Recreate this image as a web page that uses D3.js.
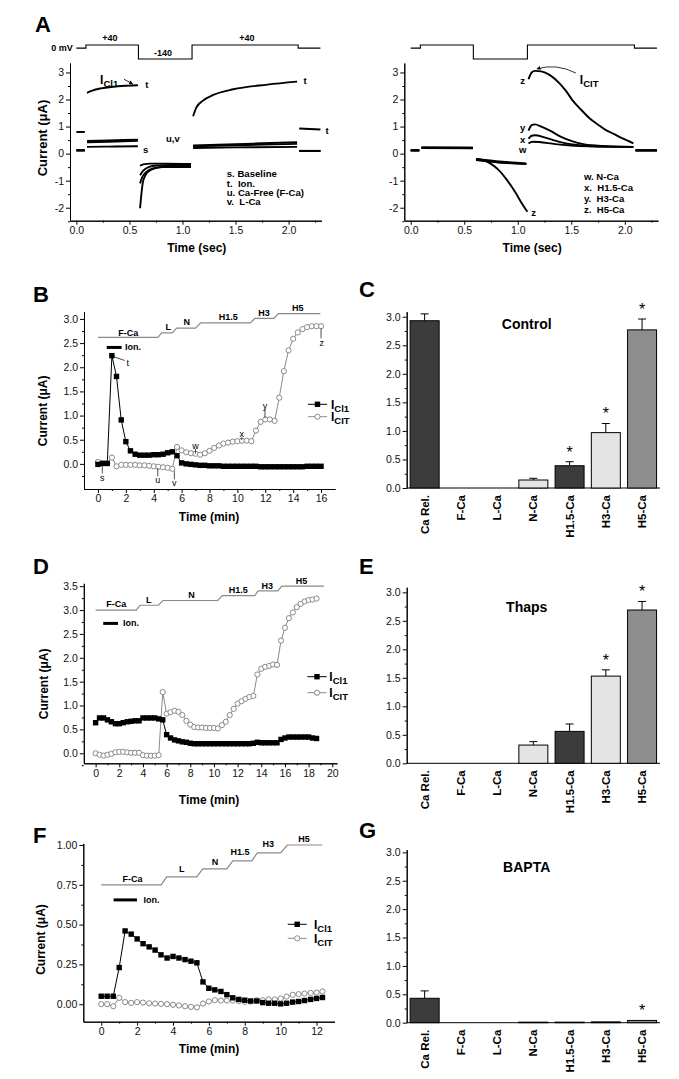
<!DOCTYPE html>
<html><head><meta charset="utf-8">
<script src="https://cdn.jsdelivr.net/npm/d3@7"></script>
<style>
body{margin:0;background:#fff}
svg{display:block;background:#fff}
text{font-family:"Liberation Sans",Arial,Helvetica,sans-serif}
</style>
</head><body>
<svg id="chart" width="679" height="1079"></svg>
<script>
// ================= DATA =================
// Panel A: voltage protocol
const protoTime = [0, 0.09, 0.09, 0.585, 0.585, 1.09, 1.09, 2.09, 2.09, 2.3];
const protoMv   = [0, 0, 40, 40, -140, -140, 40, 40, 0, 0];

// Panel A left: current traces (segments of [time s, current µA])
const traceAL_s = [
  [[0,0.12],[0.08,0.12]],
  [[0.1,0.25],[0.3,0.26],[0.58,0.27]],
  [[0.6,-0.45],[0.63,-0.4],[0.7,-0.37],[0.85,-0.37],[1.08,-0.38]],
  [[1.1,0.21],[1.5,0.23],[2.08,0.25]],
  [[2.1,0.1],[2.3,0.1]]
];
const traceAL_t = [
  [[0,0.8],[0.08,0.8]],
  [[0.1,2.25],[0.15,2.33],[0.23,2.41],[0.39,2.49],[0.58,2.53]],
  [[0.6,-2.02],[0.61,-1.6],[0.625,-1.1],[0.65,-0.8],[0.7,-0.6],[0.8,-0.5],[0.95,-0.47],[1.08,-0.46]],
  [[1.1,1.38],[1.13,1.7],[1.19,1.95],[1.29,2.17],[1.48,2.38],[1.8,2.55],[2.08,2.66]],
  [[2.1,0.93],[2.3,0.89]]
];
const traceAL_u = [
  [[0,0.12],[0.08,0.12]],
  [[0.1,0.42],[0.3,0.44],[0.58,0.47]],
  [[0.6,-1.1],[0.62,-0.88],[0.66,-0.68],[0.72,-0.55],[0.82,-0.5],[1.08,-0.5]],
  [[1.1,0.3],[1.5,0.35],[2.08,0.42]],
  [[2.1,0.1],[2.3,0.1]]
];
const traceAL_v = [
  [[0,0.12],[0.08,0.12]],
  [[0.1,0.47],[0.3,0.49],[0.58,0.51]],
  [[0.6,-0.8],[0.63,-0.63],[0.68,-0.5],[0.76,-0.44],[0.9,-0.42],[1.08,-0.42]],
  [[1.1,0.27],[1.5,0.31],[2.08,0.36]],
  [[2.1,0.1],[2.3,0.1]]
];
// Panel A right
const traceAR_w = [
  [[0,0.12],[0.08,0.12]],
  [[0.1,0.23],[0.58,0.22]],
  [[0.61,-0.2],[0.8,-0.28],[1.08,-0.36]],
  [[1.1,0.38],[1.14,0.44],[1.2,0.43],[1.35,0.35],[1.5,0.3],[1.7,0.27],[2.08,0.25]],
  [[2.1,0.12],[2.3,0.12]]
];
const traceAR_x = [
  [[0,0.12],[0.08,0.12]],
  [[0.1,0.22],[0.58,0.21]],
  [[0.61,-0.22],[0.8,-0.31],[1.08,-0.38]],
  [[1.1,0.55],[1.13,0.66],[1.16,0.68],[1.25,0.6],[1.35,0.48],[1.45,0.38],[1.6,0.3],[1.8,0.26],[2.08,0.25]],
  [[2.1,0.12],[2.3,0.12]]
];
const traceAR_y = [
  [[0,0.12],[0.08,0.12]],
  [[0.1,0.21],[0.58,0.2]],
  [[0.61,-0.24],[0.8,-0.32],[1.08,-0.39]],
  [[1.1,0.85],[1.13,1.05],[1.16,1.08],[1.22,1.0],[1.3,0.85],[1.4,0.63],[1.5,0.47],[1.6,0.36],[1.75,0.29],[1.9,0.26],[2.08,0.25]],
  [[2.1,0.12],[2.3,0.12]]
];
const traceAR_z = [
  [[0,0.12],[0.08,0.12]],
  [[0.1,0.22],[0.58,0.22]],
  [[0.61,-0.2],[0.68,-0.25],[0.75,-0.38],[0.82,-0.6],[0.9,-0.98],[0.98,-1.45],[1.04,-1.85],[1.09,-2.15]],
  [[1.1,2.75],[1.13,3.0],[1.16,3.06],[1.22,3.04],[1.3,2.9],[1.39,2.6],[1.45,2.32],[1.51,1.98],[1.59,1.63],[1.67,1.31],[1.75,1.07],[1.82,0.88],[1.9,0.72],[1.98,0.56],[2.08,0.38]],
  [[2.1,0.12],[2.3,0.12]]
];
const legendAL = ["s. Baseline", "t.  Ion.", "u. Ca-Free (F-Ca)", "v.  L-Ca"];
const legendAR = ["w. N-Ca", "x.  H1.5-Ca", "y.  H3-Ca", "z.  H5-Ca"];

// Panel B
const timeB = [0,0.33,0.67,1,1.33,1.67,2,2.33,2.67,3,3.33,3.67,4,4.33,4.67,5,5.33,5.67,6,6.33,6.67,7,7.33,7.67,8,8.33,8.67,9,9.33,9.67,10,10.33,10.67,11,11.33,11.67,12,12.33,12.67,13,13.33,13.67,14,14.33,14.67,15,15.33,15.67,16];
const icl1B = [-0.01,0.01,0.01,2.24,1.81,0.91,0.46,0.27,0.20,0.18,0.18,0.18,0.19,0.19,0.20,0.23,0.25,0.17,0.02,0.0,-0.01,-0.02,-0.03,-0.03,-0.04,-0.04,-0.04,-0.05,-0.05,-0.05,-0.05,-0.05,-0.05,-0.05,-0.05,-0.06,-0.06,-0.06,-0.06,-0.06,-0.06,-0.06,-0.06,-0.06,-0.06,-0.05,-0.05,-0.05,-0.05];
const ictB  = [0.04,0.01,0.01,0.13,-0.05,-0.02,-0.02,-0.02,-0.02,-0.03,-0.03,-0.04,-0.05,-0.06,-0.07,-0.08,-0.10,0.35,0.28,0.24,0.22,0.21,0.19,0.22,0.27,0.33,0.38,0.42,0.44,0.46,0.47,0.48,0.48,0.47,0.69,0.87,0.92,0.92,0.89,1.37,1.92,2.35,2.59,2.72,2.79,2.83,2.85,2.85,2.85];
const stepsB = [[0,2.62],[4.3,2.62],[4.57,2.71],[5.33,2.71],[5.64,2.81],[7.0,2.81],[7.36,2.92],[10.93,2.92],[11.24,3.01],[12.62,3.01],[12.95,3.11],[15.95,3.11]];
const stepLabelsB = [["F-Ca",2.18,2.70],["L",5.05,2.83],["N",6.37,2.93],["H1.5",9.35,3.03],["H3",11.91,3.13],["H5",14.33,3.22]];
const ionB = [0.63, 1.70, 2.41, 1.94];
const annotB = [
  ["s",0.31,-0.29,0.31,-0.03,0.31,-0.2],
  ["t",2.13,2.08,1.12,2.22,1.92,2.14],
  ["u",4.29,-0.34,4.29,-0.09,4.29,-0.26],
  ["v",5.48,-0.40,5.48,-0.15,5.48,-0.32],
  ["w",6.99,0.37,6.99,0.31,6.99,0.21],
  ["x",10.31,0.61,10.31,0.55,10.31,0.49],
  ["y",11.98,1.20,11.98,1.13,11.98,0.95],
  ["z",16.05,2.50,16.0,2.8,16.0,2.6]
];

// Panel D
const timeD = [0,0.33,0.67,1,1.33,1.67,2,2.33,2.67,3,3.33,3.67,4,4.33,4.67,5,5.33,5.67,6,6.33,6.67,7,7.33,7.67,8,8.33,8.67,9,9.33,9.67,10,10.33,10.67,11,11.33,11.67,12,12.33,12.67,13,13.33,13.67,14,14.33,14.67,15,15.33,15.67,16,16.33,16.67,17,17.33,17.67,18,18.33,18.67];
const icl1D = [0.64,0.74,0.74,0.70,0.66,0.62,0.62,0.64,0.66,0.67,0.68,0.68,0.74,0.74,0.74,0.74,0.72,0.70,0.39,0.32,0.28,0.26,0.24,0.23,0.21,0.20,0.20,0.20,0.20,0.20,0.20,0.20,0.20,0.20,0.20,0.20,0.20,0.20,0.20,0.20,0.21,0.23,0.22,0.22,0.22,0.22,0.22,0.29,0.32,0.34,0.34,0.34,0.34,0.34,0.34,0.32,0.31];
const ictD  = [0.0,-0.03,-0.05,-0.03,-0.01,0.02,0.03,0.03,0.02,0.01,0.01,0.01,-0.04,-0.05,-0.05,-0.05,-0.04,1.28,0.83,0.86,0.89,0.87,0.80,0.68,0.60,0.55,0.54,0.54,0.53,0.53,0.53,0.52,0.59,0.66,0.80,0.93,1.04,1.09,1.14,1.18,1.20,1.65,1.77,1.81,1.83,1.86,1.85,2.36,2.63,2.83,2.95,3.06,3.13,3.18,3.21,3.22,3.24];
const stepsD = [[0,3.0],[3.43,3.0],[3.76,3.1],[5.3,3.1],[5.7,3.2],[10.33,3.2],[10.7,3.3],[13.45,3.3],[13.73,3.4],[15.4,3.4],[15.74,3.5],[19.3,3.5]];
const stepLabelsD = [["F-Ca",1.75,3.12],["L",4.48,3.21],["N",8.1,3.32],["H1.5",12.06,3.42],["H3",14.5,3.50],["H5",17.4,3.61]];
const ionD = [0.64, 1.89, 2.72, 2.31];

// Panel F
const timeF = [0,0.33,0.67,1,1.33,1.67,2,2.33,2.67,3,3.33,3.67,4,4.33,4.67,5,5.33,5.67,6,6.33,6.67,7,7.33,7.67,8,8.33,8.67,9,9.33,9.67,10,10.33,10.67,11,11.33,11.67,12,12.33];
const icl1F = [0.05,0.05,0.05,0.23,0.46,0.44,0.41,0.38,0.36,0.34,0.31,0.29,0.30,0.29,0.28,0.27,0.26,0.14,0.10,0.09,0.08,0.06,0.04,0.03,0.025,0.02,0.02,0.01,0.006,0.006,0.002,0.006,0.013,0.017,0.023,0.03,0.036,0.042];
const ictF  = [0.0,0.0,-0.013,0.04,0.013,0.008,0.013,0.01,0.006,0.004,0.002,0.0,-0.004,-0.008,-0.013,-0.017,-0.02,0.004,0.017,0.025,0.023,0.023,0.023,0.02,0.015,0.017,0.025,0.025,0.03,0.03,0.036,0.048,0.059,0.063,0.067,0.071,0.073,0.08];
const stepsF = [[0,0.75],[3.34,0.75],[3.65,0.80],[5.32,0.80],[5.66,0.85],[7.0,0.85],[7.33,0.90],[8.39,0.90],[8.7,0.95],[10.0,0.95],[10.37,1.0],[12.32,1.0]];
const stepLabelsF = [["F-Ca",1.74,0.785],["L",4.49,0.847],["N",6.34,0.895],["H1.5",7.74,0.954],["H3",9.31,1.006],["H5",11.3,1.04]];
const ionF = [0.69, 1.99, 0.655, 2.36];

// Bar panels C, E, G
const barCats = ["Ca Rel.","F-Ca","L-Ca","N-Ca","H1.5-Ca","H3-Ca","H5-Ca"];
const barFills = ["#3c3c3c","#ffffff","#ffffff","#e4e4e4","#3c3c3c","#e4e4e4","#8e8e8e"];
const controlMean = [2.93,0,0,0.14,0.39,0.97,2.77];
const controlSEM  = [0.12,0,0,0.03,0.07,0.16,0.19];
const controlSig  = [0,0,0,0,1,1,1];
const thapsMean = [0,0,0,0.32,0.56,1.53,2.69];
const thapsSEM  = [0,0,0,0.06,0.13,0.11,0.15];
const thapsSig  = [0,0,0,0,0,1,1];
const baptaMean = [0.43,0,0,0.01,0.01,0.015,0.04];
const baptaSEM  = [0.13,0,0,0,0,0,0];
const baptaSig  = [0,0,0,0,0,0,1];

// ================= DRAWING =================
const FONT = '"Liberation Sans", Arial, Helvetica, sans-serif';
const svg = d3.select("#chart");
const GRAY = "#8a8a8a";

function drawAxes(x, y, o) {
  const g = svg.append("g");
  const x0 = x.range()[0], y0 = y.range()[0];
  const ya = g.append("g").attr("transform", `translate(${x0},0)`);
  ya.call(d3.axisLeft(y).tickValues(o.yMajor).tickFormat(o.yFmt).tickSize(4).tickSizeOuter(0).tickPadding(2));
  if (o.yMinor) ya.append("g").call(d3.axisLeft(y).tickValues(o.yMinor).tickFormat("").tickSize(2).tickSizeOuter(0));
  const xa = g.append("g").attr("transform", `translate(0,${y0})`);
  if (o.xMajor) {
    xa.call(d3.axisBottom(x).tickValues(o.xMajor).tickFormat(o.xFmt).tickSize(4).tickSizeOuter(0).tickPadding(2));
    if (o.xMinor) xa.append("g").call(d3.axisBottom(x).tickValues(o.xMinor).tickFormat("").tickSize(2).tickSizeOuter(0));
  } else {
    xa.append("line").attr("x1", x.range()[0]).attr("x2", x.range()[1]).attr("stroke", "#000");
  }
  g.selectAll("text").attr("font-size", 10.5).attr("font-family", FONT).attr("fill", "#111");
  g.selectAll("path.domain, line").attr("stroke", "#000").attr("stroke-width", 1);
  return g;
}
function txt(x, y, s, size, opts = {}) {
  const t = svg.append("text").attr("x", x).attr("y", y).attr("font-size", size)
    .attr("font-weight", opts.weight || "bold").attr("text-anchor", opts.anchor || "start")
    .attr("fill", "#000").text(s);
  if (opts.baseline) t.attr("dominant-baseline", opts.baseline);
  if (opts.rotate) t.attr("transform", `rotate(-90,${x},${y})`);
  return t;
}
function subText(x, y, main, sub, size, subSize) {
  const t = svg.append("text").attr("x", x).attr("y", y).attr("font-size", size).attr("font-weight", "bold");
  t.append("tspan").text(main);
  t.append("tspan").attr("font-size", subSize).attr("dy", 3).text(sub);
  return t;
}

// ---------- Panel A ----------
const yA = d3.scaleLinear().domain([-2.48, 3.35]).range([220.7, 63]);
const xAL = d3.scaleLinear().domain([-0.06, 2.31]).range([70, 321.5]);
const xAR = d3.scaleLinear().domain([-0.06, 2.31]).range([404.3, 658]);
const vA = d3.scaleLinear().domain([-140, 40]).range([59, 45]);
const intFmt = d => String(d);
const f1 = d => d.toFixed(1);
const f2 = d => d.toFixed(2);

[xAL, xAR].forEach(xs => {
  drawAxes(xs, yA, {
    yMajor: [-2,-1,0,1,2,3], yMinor: [-2.5,-1.5,-0.5,0.5,1.5,2.5], yFmt: intFmt,
    xMajor: [0,0.5,1,1.5,2], xMinor: [0.25,0.75,1.25,1.75,2.25], xFmt: f1
  });
  const proto = protoTime.map((t, i) => [t, protoMv[i]]);
  svg.append("path").datum(proto)
    .attr("d", d3.line().x(d => xs(d[0])).y(d => vA(d[1])))
    .attr("fill", "none").attr("stroke", "#000").attr("stroke-width", 1.1);
  txt((xs.range()[0] + xs.range()[1]) / 2 + 1, 252, "Time (sec)", 12, {anchor: "middle"});
});
// protocol labels (left only)
txt(xAL(-0.035), vA(0) + 3.2, "0 mV", 9, {anchor: "end"});
txt(xAL(0.317), vA(40) - 4, "+40", 9, {anchor: "middle"});
txt(xAL(0.816), vA(-140) - 3, "-140", 9, {anchor: "middle"});
txt(xAL(1.608), vA(40) - 4, "+40", 9, {anchor: "middle"});

function drawTraces(xs, traces) {
  const ln = d3.line().x(d => xs(d[0])).y(d => yA(d[1])).curve(d3.curveMonotoneX);
  traces.forEach(tr => tr.forEach(seg => {
    svg.append("path").datum(seg).attr("d", ln).attr("fill", "none")
      .attr("stroke", "#000").attr("stroke-width", 1.9);
  }));
}
drawTraces(xAL, [traceAL_s, traceAL_u, traceAL_v, traceAL_t]);
drawTraces(xAR, [traceAR_w, traceAR_x, traceAR_y, traceAR_z]);

// A labels
txt(35, 31.5, "A", 22);
txt(47, 138, "Current (\u03bcA)", 13, {anchor: "middle", rotate: true});
subText(xAL(0.223), yA(2.575), "I", "Cl1", 12, 9.5);
svg.append("defs").append("marker").attr("id", "ah").attr("viewBox", "0 0 10 10")
  .attr("refX", 9).attr("refY", 5).attr("markerWidth", 5).attr("markerHeight", 5).attr("orient", "auto")
  .append("path").attr("d", "M0,0 L10,5 L0,10 z").attr("fill", "#000");
svg.append("line").attr("x1", xAL(0.449)).attr("y1", yA(2.75)).attr("x2", xAL(0.531)).attr("y2", yA(2.575))
  .attr("stroke", "#000").attr("stroke-width", 0.8).attr("marker-end", "url(#ah)");
txt(xAL(0.663), yA(2.54), "t", 9.5, {anchor: "middle", baseline: "central"});
txt(xAL(0.845), yA(0.55), "u,v", 9.5, {baseline: "central"});
txt(xAL(0.628), yA(0.135), "s", 9.5, {baseline: "central"});
txt(xAL(2.155), yA(2.72), "t", 9.5, {anchor: "middle", baseline: "central"});
txt(xAL(2.362), yA(0.87), "t", 9.5, {anchor: "middle", baseline: "central"});
legendAL.forEach((s, i) => txt(xAL(1.417), yA(-0.753) + i * 9.2, s, 9.6, {baseline: "central"}).attr("xml:space", "preserve"));

txt(xAR(1.045), yA(2.69), "z", 9.5, {anchor: "middle", baseline: "central"});
subText(xAR(1.58), yA(2.575), "I", "CIT", 12, 9.5);
svg.append("path")
  .attr("d", `M${xAR(1.543)},${yA(2.98)} Q${xAR(1.356)},${yA(3.35)} ${xAR(1.179)},${yA(3.13)}`)
  .attr("fill", "none").attr("stroke", "#000").attr("stroke-width", 0.8).attr("marker-end", "url(#ah)");
txt(xAR(1.045), yA(0.96), "y", 9.5, {anchor: "middle", baseline: "central"});
txt(xAR(1.045), yA(0.53), "x", 9.5, {anchor: "middle", baseline: "central"});
txt(xAR(1.045), yA(0.17), "w", 9.5, {anchor: "middle", baseline: "central"});
txt(xAR(1.147), yA(-2.18), "z", 9.5, {anchor: "middle", baseline: "central"});
legendAR.forEach((s, i) => txt(xAR(1.618), yA(-0.864) + i * 11, s, 9.6, {baseline: "central"}).attr("xml:space", "preserve"));

// ---------- Time-course panels ----------
function timePanel(p) {
  const {x, y} = p;
  drawAxes(x, y, p.axes);
  // solution staircase
  svg.append("path").datum(p.steps)
    .attr("d", d3.line().x(d => x(d[0])).y(d => y(d[1])))
    .attr("fill", "none").attr("stroke", GRAY).attr("stroke-width", 1.2);
  p.stepLabels.forEach(([s, t, v]) => txt(x(t), y(v), s, 9, {anchor: "middle", baseline: "central"}));
  // ionomycin bar
  svg.append("line").attr("x1", x(p.ion[0])).attr("x2", x(p.ion[1]))
    .attr("y1", y(p.ion[2])).attr("y2", y(p.ion[2])).attr("stroke", "#000").attr("stroke-width", 3);
  txt(x(p.ion[3]), y(p.ion[2]), "Ion.", 9, {baseline: "central"});
  // ICIT (gray open circles)
  const ict = p.t.map((t, i) => [t, p.ict[i]]);
  const cl1 = p.t.map((t, i) => [t, p.cl1[i]]);
  const ln = d3.line().x(d => x(d[0])).y(d => y(d[1]));
  svg.append("path").datum(ict).attr("d", ln).attr("fill", "none").attr("stroke", GRAY).attr("stroke-width", 1);
  svg.append("path").datum(cl1).attr("d", ln).attr("fill", "none").attr("stroke", "#000").attr("stroke-width", 1);
  svg.append("g").selectAll("circle").data(ict).join("circle")
    .attr("cx", d => x(d[0])).attr("cy", d => y(d[1])).attr("r", 2.6)
    .attr("fill", "#fff").attr("stroke", GRAY).attr("stroke-width", 1);
  svg.append("g").selectAll("rect").data(cl1).join("rect")
    .attr("x", d => x(d[0]) - 2.7).attr("y", d => y(d[1]) - 2.7).attr("width", 5.4).attr("height", 5.4)
    .attr("fill", "#000");
  // annotations
  (p.annot || []).forEach(([s, lx, ly, x1, y1, x2, y2]) => {
    svg.append("line").attr("x1", x(x1)).attr("y1", y(y1)).attr("x2", x(x2)).attr("y2", y(y2))
      .attr("stroke", "#000").attr("stroke-width", 0.7);
    txt(x(lx), y(ly), s, 9, {anchor: "middle", baseline: "central", weight: "normal"});
  });
  // legend
  const L = p.legend;
  const mx = (L.x1 + L.x2) / 2;
  svg.append("line").attr("x1", L.x1).attr("x2", L.x2).attr("y1", L.y1).attr("y2", L.y1).attr("stroke", "#000");
  svg.append("rect").attr("x", mx - 2.7).attr("y", L.y1 - 2.7).attr("width", 5.4).attr("height", 5.4).attr("fill", "#000");
  subText(L.tx, L.y1 + 4.5, "I", "Cl1", 12, 9.5);
  svg.append("line").attr("x1", L.x1).attr("x2", L.x2).attr("y1", L.y2).attr("y2", L.y2).attr("stroke", GRAY);
  svg.append("circle").attr("cx", mx).attr("cy", L.y2).attr("r", 2.6).attr("fill", "#fff").attr("stroke", GRAY);
  subText(L.tx, L.y2 + 4.5, "I", "CIT", 12, 9.5);
  // titles
  txt(p.ylab[0], p.ylab[1], "Current (\u03bcA)", 12, {anchor: "middle", rotate: true});
  txt(209, p.xlabY, "Time (min)", 12, {anchor: "middle"});
  txt(33, p.letter[1], p.letter[0], 22);
}

timePanel({
  x: d3.scaleLinear().domain([-1, 17]).range([84, 335]),
  y: d3.scaleLinear().domain([-0.52, 3.15]).range([489, 311.7]),
  axes: {yMajor: [0,0.5,1,1.5,2,2.5,3], yMinor: [-0.25,0.25,0.75,1.25,1.75,2.25,2.75], yFmt: f1,
         xMajor: [0,2,4,6,8,10,12,14,16], xMinor: [1,3,5,7,9,11,13,15], xFmt: intFmt},
  t: timeB, cl1: icl1B, ict: ictB, steps: stepsB, stepLabels: stepLabelsB, ion: ionB, annot: annotB,
  legend: {x1: 308, x2: 327, y1: 404.3, y2: 416.7, tx: 331},
  ylab: [47.5, 410.8], xlabY: 521, letter: ["B", 302.3]
});
timePanel({
  x: d3.scaleLinear().domain([-1, 20.4]).range([83.8, 337]),
  y: d3.scaleLinear().domain([-0.21, 3.56]).range([763.3, 583.3]),
  axes: {yMajor: [0,0.5,1,1.5,2,2.5,3,3.5], yMinor: [-0.25,0.25,0.75,1.25,1.75,2.25,2.75,3.25], yFmt: f1,
         xMajor: [0,2,4,6,8,10,12,14,16,18,20], xMinor: [1,3,5,7,9,11,13,15,17,19], xFmt: intFmt},
  t: timeD, cl1: icl1D, ict: ictD, steps: stepsD, stepLabels: stepLabelsD, ion: ionD,
  legend: {x1: 307.3, x2: 326.7, y1: 676.7, y2: 692.7, tx: 329.3},
  ylab: [48, 683.8], xlabY: 804, letter: ["D", 574]
});
timePanel({
  x: d3.scaleLinear().domain([-1, 13]).range([83.3, 334.5]),
  y: d3.scaleLinear().domain([-0.11, 1.01]).range([1021.7, 843.4]),
  axes: {yMajor: [0,0.25,0.5,0.75,1], yMinor: [0.125,0.375,0.625,0.875], yFmt: f2,
         xMajor: [0,2,4,6,8,10,12], xMinor: [1,3,5,7,9,11], xFmt: intFmt},
  t: timeF, cl1: icl1F, ict: ictF, steps: stepsF, stepLabels: stepLabelsF, ion: ionF,
  legend: {x1: 287.7, x2: 306.7, y1: 924.3, y2: 938.3, tx: 314},
  ylab: [45, 939.5], xlabY: 1053, letter: ["F", 842.7]
});

// ---------- Bar panels ----------
function barPanel(p) {
  const x = d3.scaleBand().domain(barCats).range([406.7, 660]).paddingInner(0.2).paddingOuter(0.095);
  const y = d3.scaleLinear().domain([0, p.ymax]).range([p.y0, p.yTop]);
  drawAxes(x, y, {yMajor: [0,0.5,1,1.5,2,2.5,3], yMinor: [0.25,0.75,1.25,1.75,2.25,2.75], yFmt: f1});
  const g = svg.append("g");
  const data = barCats.map((c, i) => ({c, m: p.mean[i], e: p.sem[i], s: p.sig[i], f: barFills[i]}));
  g.selectAll("rect").data(data.filter(d => d.m > 0)).join("rect")
    .attr("x", d => x(d.c)).attr("width", x.bandwidth())
    .attr("y", d => y(d.m)).attr("height", d => y(0) - y(d.m))
    .attr("fill", d => d.f).attr("stroke", "#000").attr("stroke-width", 1);
  data.filter(d => d.e > 0).forEach(d => {
    const cx = x(d.c) + x.bandwidth() / 2;
    g.append("line").attr("x1", cx).attr("x2", cx).attr("y1", y(d.m)).attr("y2", y(d.m + d.e)).attr("stroke", "#000");
    g.append("line").attr("x1", cx - 4).attr("x2", cx + 4).attr("y1", y(d.m + d.e)).attr("y2", y(d.m + d.e)).attr("stroke", "#000");
  });
  data.filter(d => d.s).forEach(d => {
    const cx = x(d.c) + x.bandwidth() / 2;
    txt(cx, y(d.m + d.e) - 4, "*", 16, {anchor: "middle", weight: "normal"});
  });
  barCats.forEach(c => {
    const cx = x(c) + x.bandwidth() / 2 + 4;
    svg.append("text").attr("transform", `translate(${cx},${p.y0 + 7}) rotate(-90)`)
      .attr("text-anchor", "end").attr("font-size", 11.5).attr("font-weight", "bold").text(c);
  });
  txt(526.7, p.titleY, p.title, 14, {anchor: "middle"});
  txt(359, p.letterY, p.letter, 22);
}
barPanel({mean: controlMean, sem: controlSEM, sig: controlSig, y0: 488, yTop: 311.6, ymax: 3.09, title: "Control", titleY: 329, letter: "C", letterY: 296.7});
barPanel({mean: thapsMean, sem: thapsSEM, sig: thapsSig, y0: 763.3, yTop: 587.2, ymax: 3.09, title: "Thaps", titleY: 611.5, letter: "E", letterY: 573.5});
barPanel({mean: baptaMean, sem: baptaSEM, sig: baptaSig, y0: 1022.7, yTop: 849.5, ymax: 3.05, title: "BAPTA", titleY: 871.5, letter: "G", letterY: 838.3});
</script>
</body></html>
